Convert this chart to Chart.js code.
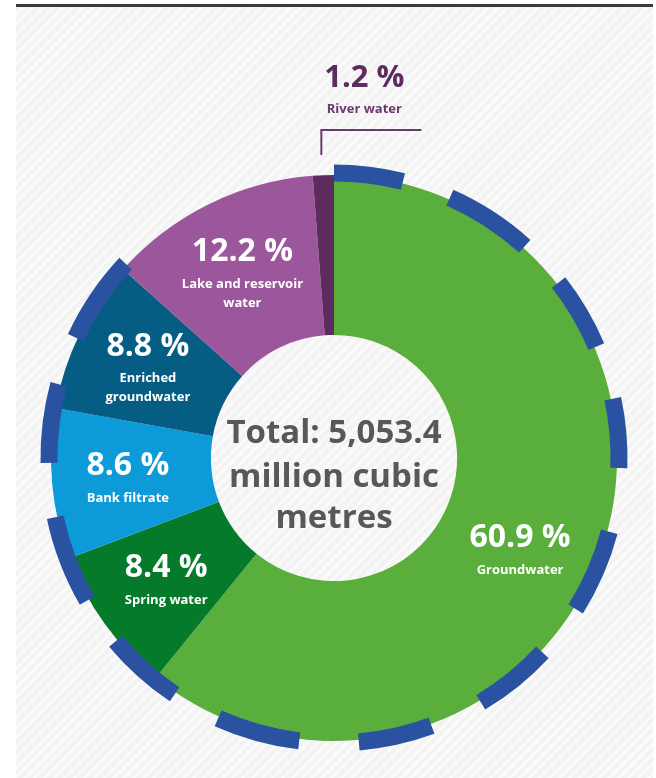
<!DOCTYPE html>
<html>
<head>
<meta charset="utf-8">
<script src="https://cdn.jsdelivr.net/npm/chart.js@4.4.1/dist/chart.umd.min.js"></script>
<style>
    html, body { margin: 0; padding: 0; background: #fff; }
    #wrap { position: relative; width: 656px; height: 778px; overflow: hidden; }
    #rule { position: absolute; left: 16px; top: 4px; width: 637px; height: 3px; background: #3a3a3a; }
    #panel {
        position: absolute; left: 16px; top: 7px; width: 637px; height: 771px;
        background: repeating-linear-gradient(135deg, #f3f3f3 0px, #f3f3f3 4px, #fafafa 4px, #fafafa 7px);
    }
    #chart { position: absolute; left: 0; top: 0; }
</style>
</head>
<body>
<div id="wrap">
    <div id="rule"></div>
    <div id="panel"></div>
    <canvas id="chart" width="656" height="778"></canvas>
</div>
<script>
// Data (shares in %, clockwise from 12 o'clock)
const categories = ['Groundwater', 'Spring water', 'Bank filtrate', 'Enriched groundwater', 'Lake and reservoir water', 'River water'];
const shares = [60.9, 8.4, 8.6, 8.8, 12.2, 1.2];
const labelLines = [['Groundwater'], ['Spring water'], ['Bank filtrate'], ['Enriched', 'groundwater'], ['Lake and reservoir', 'water'], ['River water']];
const totalLines = ['Total: 5,053.4', 'million cubic', 'metres'];

const sliceColors = ['#59ae3c', '#057a2b', '#0d9ad8', '#055d84', '#9c569b', '#5e2b5f'];
const dashColor = '#2a52a0';
const FONT = '"Open Sans", "Noto Sans", sans-serif';

// outer dashed ring, degrees clockwise from top
const dashSpans = [[0, 14], [24, 42], [52, 67], [78, 92], [105, 122], [133, 149], [160, 175],
                   [187, 204], [214, 230], [240, 258], [269, 285], [295, 313]];

const toRad = d => (d - 90) * Math.PI / 180;

const dashRing = {
    id: 'dashRing',
    afterDatasetsDraw(chart) {
        const arc = chart.getDatasetMeta(0).data[0];
        const { x, y, outerRadius } = arc.getProps(['x', 'y', 'outerRadius'], true);
        const ctx = chart.ctx;
        ctx.save();
        ctx.strokeStyle = dashColor;
        ctx.lineWidth = 17;
        ctx.lineCap = 'butt';
        dashSpans.forEach(([a, b]) => {
            ctx.beginPath();
            ctx.arc(x, y, outerRadius + 2, toRad(a), toRad(b));
            ctx.stroke();
        });
        ctx.restore();
    }
};

const sliceLabels = {
    id: 'sliceLabels',
    afterDraw(chart) {
        const ctx = chart.ctx;
        const meta = chart.getDatasetMeta(0);
        ctx.save();
        ctx.textAlign = 'center';
        ctx.textBaseline = 'middle';

        meta.data.forEach((arc, i) => {
            const p = arc.getProps(['x', 'y', 'startAngle', 'endAngle', 'innerRadius', 'outerRadius'], true);
            const pct = shares[i].toFixed(1) + ' %';
            const lines = labelLines[i];

            if (shares[i] < 3) {
                // small slice: label outside with a leader line
                const mid = (p.startAngle + p.endAngle) / 2;
                const lx = p.x + Math.cos(mid) * p.outerRadius - 2;
                const yTop = p.y - p.outerRadius - 45;
                ctx.strokeStyle = '#6b3a6d';
                ctx.lineWidth = 2;
                ctx.beginPath();
                ctx.moveTo(lx, p.y - p.outerRadius - 20);
                ctx.lineTo(lx, yTop);
                ctx.lineTo(lx + 100, yTop);
                ctx.stroke();
                ctx.fillStyle = '#5e2b5f';
                ctx.font = '700 31px ' + FONT;
                ctx.fillText(pct, lx + 43, yTop - 52);
                ctx.fillStyle = '#6b3a6d';
                ctx.font = '700 13px ' + FONT;
                ctx.fillText(lines[0], lx + 43, yTop - 21);
                return;
            }

            let mid = (p.startAngle + p.endAngle) / 2;
            if (i === 0) mid += 6.5 * Math.PI / 180;
            const r = p.innerRadius + 0.525 * (p.outerRadius - p.innerRadius);
            const cx = p.x + Math.cos(mid) * r;
            const cy = p.y + Math.sin(mid) * r + 5;
            const top = cy - 16 - (lines.length - 1) * 9.5;

            ctx.fillStyle = '#ffffff';
            ctx.font = '700 32px ' + FONT;
            ctx.fillText(pct, cx, top);
            ctx.font = '700 13px ' + FONT;
            lines.forEach((t, k) => ctx.fillText(t, cx, top + 32 + k * 19));
        });

        // total in the hole
        const c = meta.data[0].getProps(['x', 'y'], true);
        ctx.fillStyle = '#58585a';
        ctx.font = '700 33px ' + FONT;
        ctx.textBaseline = 'alphabetic';
        ctx.fillText(totalLines[0], c.x, c.y - 15);
        ctx.fillText(totalLines[1], c.x, c.y + 29);
        ctx.fillText(totalLines[2], c.x, c.y + 70);
        ctx.restore();
    }
};

function drawChart() {
    new Chart(document.getElementById('chart'), {
        type: 'doughnut',
        data: {
            labels: categories,
            datasets: [{
                data: shares,
                backgroundColor: sliceColors,
                borderWidth: 0,
                hoverOffset: 0
            }]
        },
        options: {
            responsive: false,
            devicePixelRatio: 1,
            animation: false,
            cutout: '43.5%',
            rotation: 0,
            layout: { padding: { left: 51, right: 39, top: 175, bottom: 37 } },
            plugins: {
                legend: { display: false },
                tooltip: { enabled: false }
            },
            events: []
        },
        plugins: [dashRing, sliceLabels]
    });
}

if (document.fonts && document.fonts.load) {
    Promise.all([
        document.fonts.load('700 32px "Open Sans"'),
        document.fonts.load('700 13px "Open Sans"')
    ]).then(drawChart, drawChart);
} else {
    drawChart();
}
</script>
</body>
</html>
